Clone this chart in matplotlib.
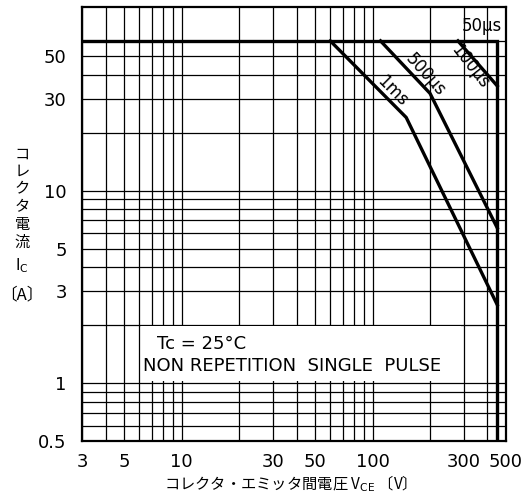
import matplotlib
matplotlib.use('Agg')
import matplotlib.pyplot as plt
from matplotlib.patches import Rectangle
from matplotlib.ticker import NullFormatter

jp = ['Noto Sans CJK JP', 'DejaVu Sans']
plt.rcParams['font.family'] = ['DejaVu Sans']

# safe operating area boundaries, (V_CE [V], I_C [A])
vce_50us = [3, 450, 450]
ic_50us = [60, 60, 0.5]
vce_100us = [280, 450]
ic_100us = [60, 35]
vce_500us = [110, 200, 450]
ic_500us = [60, 32, 6.4]
vce_1ms = [60, 150, 450]
ic_1ms = [60, 24, 2.55]

x_major = [3, 5, 10, 30, 50, 100, 300, 500]
x_minor = [4, 6, 7, 8, 9, 20, 40, 60, 70, 80, 90, 200, 400]
y_major = [0.5, 1, 3, 5, 10, 30, 50]
y_minor = [0.6, 0.7, 0.8, 0.9, 2, 4, 6, 7, 8, 9, 20, 40, 60]

fig = plt.figure(figsize=(5.31, 4.93), dpi=100)
ax = fig.add_axes([0.1544, 0.1055, 0.7985, 0.8803])
ax.set_xscale('log')
ax.set_yscale('log')
ax.set_xlim(3, 500)
ax.set_ylim(0.5, 90)

ax.set_xticks(x_major)
ax.set_xticklabels([str(v) for v in x_major])
ax.set_xticks(x_minor, minor=True)
ax.set_yticks(y_major)
ax.set_yticklabels(['0.5', '1', '3', '5', '10', '30', '50'])
ax.set_yticks(y_minor, minor=True)
ax.xaxis.set_minor_formatter(NullFormatter())
ax.yaxis.set_minor_formatter(NullFormatter())
ax.tick_params(which='both', length=0, labelsize=13)
ax.tick_params(axis='x', pad=9)
ax.tick_params(axis='y', pad=11)

ax.set_axisbelow(True)
ax.grid(True, which='both', color='black', linewidth=0.9)
for s in ax.spines.values():
    s.set_linewidth(1.6)

lw = 2.4
ax.plot(vce_50us, ic_50us, color='black', lw=lw, solid_joinstyle='miter')
ax.plot(vce_100us, ic_100us, color='black', lw=lw)
ax.plot(vce_500us, ic_500us, color='black', lw=lw)
ax.plot(vce_1ms, ic_1ms, color='black', lw=lw)

# white note box hiding the grid
ax.add_patch(Rectangle((6.1, 1.03), 290 - 6.1, 1.97 - 1.03, facecolor='white',
                       edgecolor='none', zorder=1))
ax.text(7.4, 1.6, 'Tc = 25°C', fontsize=13, va='center', zorder=3)
ax.text(6.3, 1.22, 'NON REPETITION  SINGLE  PULSE', fontsize=13, va='center', zorder=3)

ax.text(372, 72, '50μs', fontsize=12, ha='center', va='center')
ax.text(325, 44, '100μs', fontsize=12, ha='center', va='center', rotation=-52)
ax.text(190, 40, '500μs', fontsize=12, ha='center', va='center', rotation=-48)
ax.text(126, 33, '1ms', fontsize=12, ha='center', va='center', rotation=-45)

# vertical y label
fig.text(22 / 531, 1 - 198 / 493, 'コ\nレ\nク\nタ\n電\n流', family=jp, fontsize=11,
         ha='center', va='center', linespacing=1.05)
fig.text(22 / 531, 1 - 266 / 493, r'I$_\mathrm{C}$', fontsize=11, ha='center', va='center')
fig.text(22 / 531, 1 - 295 / 493, '〔A〕', family=jp, fontsize=12, ha='center', va='center')

fig.text(286 / 531, 1 - 484 / 493, 'コレクタ・エミッタ間電圧 V$_\\mathrm{CE}$ 〔V〕', family=jp,
         fontsize=11, ha='center', va='center')

fig.savefig('out.png', dpi=100)
